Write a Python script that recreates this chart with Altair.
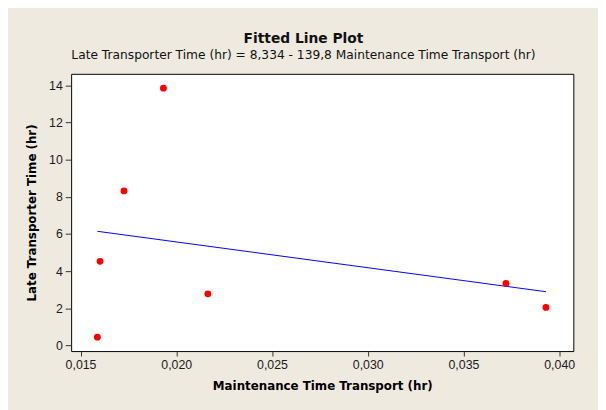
import altair as alt
import pandas as pd

# Data
maintenance_hr = [0.01588, 0.01602, 0.01727, 0.01933, 0.02165, 0.03722, 0.03931]
late_hr = [0.45, 4.53, 8.32, 13.85, 2.78, 3.34, 2.05]
x_ticks = [0.015, 0.020, 0.025, 0.030, 0.035, 0.040]
y_ticks = [0, 2, 4, 6, 8, 10, 12, 14]

df = pd.DataFrame({"x": maintenance_hr, "y": late_hr})

xs = alt.Scale(domain=[0.01451, 0.04074], nice=False, zero=False)
ys = alt.Scale(domain=[-0.30, 14.62], nice=False, zero=False)

x_axis = alt.Axis(
    title="Maintenance Time Transport (hr)",
    values=x_ticks,
    labelExpr="replace(format(datum.value, '.3f'), '.', ',')",
    tickSize=5,
    labelPadding=3,
    titlePadding=9,
)
y_axis = alt.Axis(
    title="Late Transporter Time (hr)",
    values=y_ticks,
    format="d",
    tickSize=6,
    labelPadding=3,
    titlePadding=10,
)

base = alt.Chart(df).encode(
    x=alt.X("x:Q", scale=xs, axis=x_axis),
    y=alt.Y("y:Q", scale=ys, axis=y_axis),
)

points = base.mark_circle(color="#ff0000", opacity=1, size=48)
line = base.transform_regression("x", "y").mark_line(color="#0000ff", strokeWidth=1)

chart = (
    alt.layer(line, points)
    .properties(
        width=509,
        height=281,
        autosize=alt.AutoSizeParams(type="none"),
        padding={"left": 64, "top": 64, "right": 25, "bottom": 57},
        background="#eeeae0",
        title=alt.TitleParams(
            text="Fitted Line Plot",
            subtitle="Late Transporter Time (hr) =  8,334 - 139,8 Maintenance Time Transport (hr)",
            font="DejaVu Sans",
            fontWeight="bold",
            fontSize=14,
            color="#111111",
            subtitleFont="DejaVu Sans",
            subtitleFontSize=12.4,
            subtitleColor="#111111",
            subtitlePadding=3,
            anchor="middle",
            frame="group",
            dx=-19,
            offset=13,
        ),
    )
    .configure_view(fill="white", stroke="black", strokeWidth=1)
    .configure_axis(
        grid=False,
        domain=False,
        tickColor="#333333",
        labelFont="Liberation Sans",
        labelFontSize=12.5,
        labelColor="#1a1a1a",
        titleFont="DejaVu Sans",
        titleFontWeight="bold",
        titleFontSize=12,
        titleColor="#000000",
    )
)

chart.save("out.html", embed_options={"renderer": "svg", "actions": False})
